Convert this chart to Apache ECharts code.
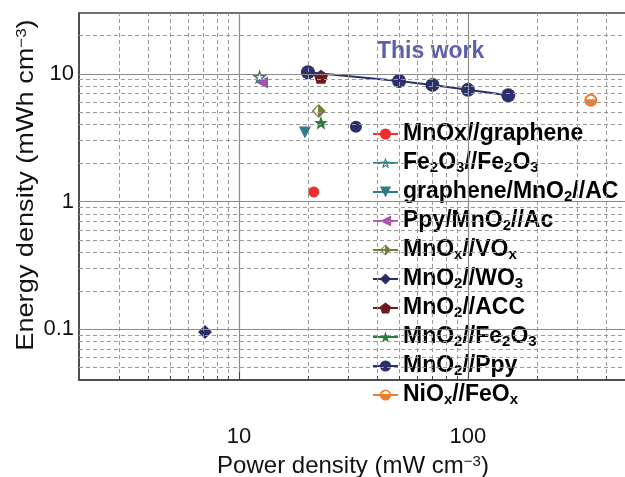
<!DOCTYPE html>
<html>
<head>
<meta charset="utf-8">
<script src="https://cdn.jsdelivr.net/npm/echarts@6/dist/echarts.min.js"></script>
<style>
  html, body { margin: 0; padding: 0; background: #fff; }
  #chart { width: 625px; height: 477px; }
</style>
</head>
<body>
<div id="chart"></div>
<script>
// this work (MnO2//Ppy device)
const thisWorkPower = [20, 50, 70, 100, 150]
const thisWorkEnergy = [10.3, 8.8, 8.2, 7.5, 6.8]

// literature devices, in legend order
const refNames = ['MnOx//graphene', 'Fe2O3//Fe2O3', 'graphene/MnO2//AC', 'Ppy/MnO2//Ac', 'MnOx//VOx',
  'MnO2//WO3', 'MnO2//ACC', 'MnO2//Fe2O3', 'MnO2//Ppy', 'NiOx//FeOx']
const refLabels = ['MnOx//graphene', 'Fe{s|2}O{s|3}//Fe{s|2}O{s|3}', 'graphene/MnO{s|2}//AC', 'Ppy/MnO{s|2}//Ac',
  'MnO{s|x}//VO{s|x}', 'MnO{s|2}//WO{s|3}', 'MnO{s|2}//ACC', 'MnO{s|2}//Fe{s|2}O{s|3}', 'MnO{s|2}//Ppy', 'NiO{s|x}//FeO{s|x}']
const refPower = [21.2, 12.3, 19.4, 12.6, 22.3, 7.1, 22.8, 22.8, 32.4, 344]
const refEnergy = [1.19, 9.5, 3.47, 8.55, 5.13, 0.095, 9.5, 4.15, 3.86, 6.22]

// grid lines / ticks
const xMajorGrid = [10, 100]
const xMinorGrid = [3, 4, 5, 6, 7, 8, 9, 20, 30, 40, 50, 60, 70, 80, 90, 200, 300, 400]
const yMajorGrid = [0.1, 1, 10]
const yMinorGrid = [0.05, 0.06, 0.07, 0.08, 0.09, 0.2, 0.3, 0.4, 0.5, 0.6, 0.7, 0.8, 0.9,
  2, 3, 4, 5, 6, 7, 8, 9, 20]

const X_MIN = 2, X_MAX = 500, Y_MIN = 0.04, Y_MAX = 30

const STAR = 'path://M0,-10L2.351,-3.236L9.511,-3.09L3.804,1.236L5.878,8.09L0,4L-5.878,8.09L-3.804,1.236L-9.511,-3.09L-2.351,-3.236Z'
const STAR_HOLLOW = STAR + 'M0,-4.6L-1.08,-1.49L-4.37,-1.42L-1.75,0.57L-2.7,3.72L0,1.84L2.7,3.72L1.75,0.57L4.37,-1.42L1.08,-1.49Z'
const PENTAGON = 'path://M0,-10L9.511,-3.09L5.878,8.09L-5.878,8.09L-9.511,-3.09Z'
const HALF_DIAMOND = 'path://M0,-10L10,0L0,10L-10,0ZM-1,-7L-7,0L-1,7Z'
const HALF_CIRCLE = 'path://M-10,0A10,10 0 1,1 10,0A10,10 0 1,1 -10,0ZM6.8,-1.5A7,7 0 0,0 -6.8,-1.5Z'

const refStyle = [
  { symbol: 'circle', size: 11, color: '#ee2e2e' },
  { symbol: STAR_HOLLOW, size: 15, color: '#2f7f82' },
  { symbol: 'triangle', size: 12, color: '#2d7c86', rotate: 180 },
  { symbol: 'triangle', size: 12, color: '#a452aa', rotate: 90 },
  { symbol: HALF_DIAMOND, size: 14, color: '#7b7a36' },
  { symbol: 'diamond', size: 14, color: '#2a2d63' },
  { symbol: PENTAGON, size: 14, color: '#6e1a1e' },
  { symbol: STAR, size: 14, color: '#2e7d3a' },
  { symbol: 'circle', size: 12, color: '#2b2f6e' },
  { symbol: HALF_CIRCLE, size: 13, color: '#f07c2e' },
]

const FONT = 'Liberation Sans, Arial, sans-serif'

function gridLine(values, axis, dashed) {
  return values.map((v) => ({
    [axis]: v,
    lineStyle: dashed
      ? { color: '#9a9a9a', width: 1, type: [4, 3] }
      : { color: '#8c8c8c', width: 1.2, type: 'solid' },
  }))
}

// short inward ticks on the bottom axis (length given as a ratio on the log y scale)
function bottomTicks(values, ratio) {
  return values.map((v) => [
    { coord: [v, Y_MIN], lineStyle: { color: '#444', width: 1, type: 'solid' } },
    { coord: [v, Y_MIN * ratio] },
  ])
}

function isPow10(v) {
  const l = Math.log10(v)
  return Math.abs(l - Math.round(l)) < 1e-6
}

const chart = echarts.init(document.getElementById('chart'))

const series = [
  {
    name: 'gridlines',
    type: 'line',
    data: [],
    z: 1,
    silent: true,
    markLine: {
      silent: true,
      symbol: ['none', 'none'],
      label: { show: false },
      animation: false,
      data: [
        ...gridLine(xMinorGrid, 'xAxis', true),
        ...gridLine(yMinorGrid, 'yAxis', true),
        ...gridLine(xMajorGrid, 'xAxis', false),
        ...gridLine(yMajorGrid, 'yAxis', false),
        ...bottomTicks(xMinorGrid, 1.075),
        ...bottomTicks(xMajorGrid, 1.15),
      ],
    },
  },
  {
    name: 'This work',
    type: 'line',
    z: 4,
    data: thisWorkPower.map((p, i) => [p, thisWorkEnergy[i]]),
    symbol: 'circle',
    symbolSize: 14,
    itemStyle: { color: '#2b2f6e' },
    lineStyle: { color: '#2b2f6e', width: 2 },
  },
]

refNames.forEach((name, i) => {
  const s = refStyle[i]
  series.push({
    name,
    type: 'line',
    z: 3,
    data: [[refPower[i], refEnergy[i]]],
    symbol: s.symbol,
    symbolSize: s.size,
    symbolRotate: s.rotate || 0,
    itemStyle: { color: s.color },
    lineStyle: { color: s.color, width: 2 },
  })
})

chart.setOption({
  animation: false,
  grid: {
    left: 79, top: 13, right: -3, bottom: 97,
    outerBoundsMode: 'none',
    containLabel: false,
    show: true, borderColor: '#444', borderWidth: 1.5,
  },
  xAxis: {
    type: 'log',
    logBase: 10,
    min: X_MIN,
    max: X_MAX,
    axisLine: { lineStyle: { color: '#444', width: 1.5 } },
    axisTick: { show: false },
    splitLine: { show: false },
    axisLabel: {
      margin: 46,
      fontSize: 22,
      fontFamily: FONT,
      color: '#111',
      formatter: (v) => (isPow10(v) ? String(Math.round(v)) : ''),
    },
  },
  yAxis: {
    type: 'log',
    logBase: 10,
    min: Y_MIN,
    max: Y_MAX,
    axisLine: { lineStyle: { color: '#444', width: 1.5 } },
    axisTick: { show: false },
    splitLine: { show: false },
    axisLabel: {
      margin: 5,
      fontSize: 22,
      fontFamily: FONT,
      color: '#111',
      formatter: (v) => (isPow10(v) ? String(+v.toPrecision(3)) : ''),
    },
  },
  legend: {
    data: refNames,
    orient: 'vertical',
    left: 372,
    top: 122,
    padding: 0,
    itemWidth: 25,
    itemHeight: 14,
    itemGap: 5,
    formatter: (name) => refLabels[refNames.indexOf(name)],
    textStyle: {
      fontSize: 23,
      fontWeight: 'bold',
      fontFamily: FONT,
      color: '#000',
      lineHeight: 24,
      rich: {
        s: { fontSize: 15, fontWeight: 'bold', fontFamily: FONT, color: '#000', verticalAlign: 'bottom', lineHeight: 8 },
      },
    },
  },
  graphic: [
    {
      type: 'text',
      x: 377,
      y: 52,
      style: {
        text: 'This work',
        fontSize: 23,
        fontWeight: 'bold',
        fontFamily: FONT,
        fill: '#5b5fae',
        verticalAlign: 'middle',
      },
    },
    {
      type: 'text',
      x: 26,
      y: 185,
      rotation: Math.PI / 2,
      scaleX: 1.13,
      style: {
        text: 'Energy density (mWh cm{sup|−3})',
        fontSize: 24,
        fontFamily: FONT,
        fill: '#111',
        align: 'center',
        verticalAlign: 'middle',
        rich: { sup: { fontSize: 15, fontFamily: FONT, fill: '#111', verticalAlign: 'top', lineHeight: 10 } },
      },
    },
    {
      type: 'text',
      x: 353,
      y: 466,
      style: {
        text: 'Power density (mW cm{sup|−3})',
        fontSize: 24,
        fontFamily: FONT,
        fill: '#111',
        align: 'center',
        verticalAlign: 'middle',
        rich: { sup: { fontSize: 15, fontFamily: FONT, fill: '#111', verticalAlign: 'top', lineHeight: 10 } },
      },
    },
  ],
  series,
})
</script>
</body>
</html>
